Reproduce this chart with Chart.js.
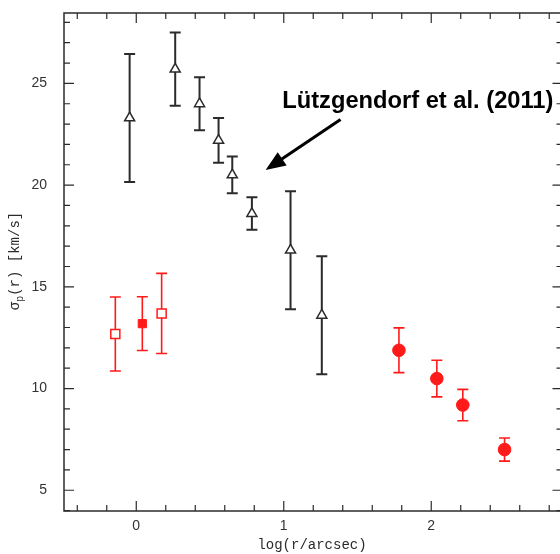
<!DOCTYPE html>
<html>
<head>
<meta charset="utf-8">
<script src="https://cdn.jsdelivr.net/npm/chart.js@4.4.1/dist/chart.umd.min.js"></script>
<style>
  html, body { margin: 0; padding: 0; background: #fff; overflow: hidden; }
  #wrap { width: 560px; height: 554px; overflow: hidden; }
</style>
</head>
<body>
<div id="wrap"><canvas id="sigmaChart" width="580" height="554"></canvas></div>
<script>
/* ---------- data (log r, sigma_p, error) ---------- */
const lutzX = [-0.045, 0.264, 0.429, 0.558, 0.651, 0.784, 1.046, 1.258];
const lutzY = [23.3, 25.7, 24.0, 22.2, 20.5, 18.6, 16.8, 13.6];
const lutzErr = [3.15, 1.8, 1.3, 1.1, 0.9, 0.8, 2.9, 2.9];

const openSqX = [-0.142, 0.172];
const openSqY = [12.68, 13.69];
const openSqErr = [1.82, 1.97];

const fillSqX = [0.041];
const fillSqY = [13.19];
const fillSqErr = [1.32];

const circX = [1.781, 2.038, 2.214, 2.497];
const circY = [11.88, 10.49, 9.19, 7.0];
const circErr = [1.1, 0.9, 0.77, 0.57];

const xTickLabels = [0, 1, 2];
const yTickLabels = [5, 10, 15, 20, 25];

// annotation, in data units
const note = { text: 'Lützgendorf et al. (2011)', x: 0.99, y: 23.77, fromX: 1.385, fromY: 23.23, toX: 0.877, toY: 20.74 };

const INK = '#2b2b2b';
const RED = '#ff1a1a';

const pts = (xs, ys) => xs.map((x, i) => ({ x, y: ys[i] }));

/* ---------- error bars, drawn under the markers ---------- */
const errorBars = {
  id: 'errorBars',
  beforeDatasetsDraw(chart) {
    const { ctx, scales: { x, y } } = chart;
    chart.data.datasets.forEach((ds) => {
      if (!ds.errors) return;
      ctx.save();
      ctx.strokeStyle = ds.errColor;
      ctx.lineWidth = ds.errWidth;
      ds.data.forEach((p, i) => {
        const px = x.getPixelForValue(p.x);
        const top = y.getPixelForValue(p.y + ds.errors[i]);
        const bot = y.getPixelForValue(p.y - ds.errors[i]);
        ctx.beginPath();
        ctx.moveTo(px, top); ctx.lineTo(px, bot);
        ctx.moveTo(px - 5.5, top); ctx.lineTo(px + 5.5, top);
        ctx.moveTo(px - 5.5, bot); ctx.lineTo(px + 5.5, bot);
        ctx.stroke();
      });
      ctx.restore();
    });
  },
};

/* ---------- box frame with inward ticks on all sides ---------- */
const frame = {
  id: 'frame',
  afterDatasetsDraw(chart) {
    const { ctx, chartArea: a, scales: { x, y } } = chart;
    ctx.save();
    ctx.strokeStyle = INK;
    ctx.lineWidth = 1.5;
    ctx.strokeRect(a.left, a.top, a.right - a.left, a.bottom - a.top);
    ctx.lineWidth = 1.2;
    ctx.beginPath();
    for (let v = -0.4; v <= x.max + 1e-6; v += 0.2) {
      const px = x.getPixelForValue(v);
      const len = Math.abs(v - Math.round(v)) < 1e-6 ? 10 : 6;
      ctx.moveTo(px, a.bottom); ctx.lineTo(px, a.bottom - len);
      ctx.moveTo(px, a.top); ctx.lineTo(px, a.top + len);
    }
    for (let v = 4; v <= y.max; v += 1) {
      const py = y.getPixelForValue(v);
      const len = v % 5 === 0 ? 10 : 6;
      ctx.moveTo(a.left, py); ctx.lineTo(a.left + len, py);
      ctx.moveTo(a.right, py); ctx.lineTo(a.right - len, py);
    }
    ctx.stroke();

    // axis titles
    ctx.fillStyle = INK;
    ctx.font = "14px 'Liberation Mono'";
    ctx.textAlign = 'center';
    ctx.textBaseline = 'alphabetic';
    ctx.fillText('log(r/arcsec)', 312, 549);

    ctx.translate(19, 261);
    ctx.rotate(-Math.PI / 2);
    ctx.textAlign = 'left';
    const big = "14px 'Liberation Mono'";
    const small = "10px 'Liberation Mono'";
    ctx.font = big;
    const w1 = ctx.measureText('σ').width;
    const w3 = ctx.measureText('(r) [km/s]').width;
    ctx.font = small;
    const w2 = ctx.measureText('p').width;
    let cx = -(w1 + w2 + w3) / 2;
    ctx.font = big; ctx.fillText('σ', cx, 0); cx += w1;
    ctx.font = small; ctx.fillText('p', cx, 4); cx += w2;
    ctx.font = big; ctx.fillText('(r) [km/s]', cx, 0);
    ctx.restore();
  },
};

/* ---------- annotation text + arrow ---------- */
const arrowNote = {
  id: 'arrowNote',
  afterDraw(chart) {
    const { ctx, scales: { x, y } } = chart;
    const x0 = x.getPixelForValue(note.fromX), y0 = y.getPixelForValue(note.fromY);
    const x1 = x.getPixelForValue(note.toX), y1 = y.getPixelForValue(note.toY);
    const ang = Math.atan2(y1 - y0, x1 - x0);
    const head = 20, half = 8;
    ctx.save();
    ctx.strokeStyle = '#000';
    ctx.fillStyle = '#000';
    ctx.lineWidth = 3;
    ctx.beginPath();
    ctx.moveTo(x0, y0);
    ctx.lineTo(x1 - Math.cos(ang) * head * 0.8, y1 - Math.sin(ang) * head * 0.8);
    ctx.stroke();
    const bx = x1 - Math.cos(ang) * head, by = y1 - Math.sin(ang) * head;
    ctx.beginPath();
    ctx.moveTo(x1, y1);
    ctx.lineTo(bx + Math.sin(ang) * half, by - Math.cos(ang) * half);
    ctx.lineTo(bx - Math.sin(ang) * half, by + Math.cos(ang) * half);
    ctx.closePath();
    ctx.fill();

    ctx.font = "bold 23.7px 'Liberation Sans'";
    ctx.textAlign = 'left';
    ctx.textBaseline = 'alphabetic';
    ctx.fillText(note.text, x.getPixelForValue(note.x), y.getPixelForValue(note.y));
    ctx.restore();
  },
};

new Chart(document.getElementById('sigmaChart').getContext('2d'), {
  type: 'scatter',
  data: {
    datasets: [
      {
        label: 'Lützgendorf et al. (2011)', data: pts(lutzX, lutzY), errors: lutzErr,
        errColor: INK, errWidth: 2,
        pointStyle: 'triangle', pointRadius: 5.8, pointBackgroundColor: '#fff', pointBorderColor: INK, pointBorderWidth: 1.5,
      },
      {
        label: 'open squares', data: pts(openSqX, openSqY), errors: openSqErr,
        errColor: RED, errWidth: 1.6,
        pointStyle: 'rect', pointRadius: 6.4, pointBackgroundColor: '#fff', pointBorderColor: RED, pointBorderWidth: 1.5,
      },
      {
        label: 'filled square', data: pts(fillSqX, fillSqY), errors: fillSqErr,
        errColor: RED, errWidth: 1.6,
        pointStyle: 'rect', pointRadius: 5.8, pointBackgroundColor: RED, pointBorderColor: RED, pointBorderWidth: 1,
      },
      {
        label: 'circles', data: pts(circX, circY), errors: circErr,
        errColor: RED, errWidth: 1.6,
        pointStyle: 'circle', pointRadius: 6.3, pointBackgroundColor: RED, pointBorderColor: RED, pointBorderWidth: 1,
      },
    ],
  },
  options: {
    responsive: false, animation: false, devicePixelRatio: 1,
    layout: { padding: { top: 13, right: 17.5, left: 0, bottom: 0 } },
    plugins: { legend: { display: false }, tooltip: { enabled: false } },
    scales: {
      x: {
        type: 'linear', min: -0.49, max: 2.89,
        grid: { display: false, drawTicks: false }, border: { display: false },
        ticks: { color: '#333', padding: 7, font: { family: "'Liberation Sans'", size: 14 } },
        afterBuildTicks: (s) => { s.ticks = xTickLabels.map((v) => ({ value: v })); },
        afterFit: (s) => { s.height = 43; s.paddingLeft = 0; s.paddingRight = 0; },
      },
      y: {
        type: 'linear', min: 3.98, max: 28.46,
        grid: { display: false, drawTicks: false }, border: { display: false },
        ticks: { color: '#333', padding: 17, font: { family: "'Liberation Sans'", size: 14 } },
        afterBuildTicks: (s) => { s.ticks = yTickLabels.map((v) => ({ value: v })); },
        afterFit: (s) => { s.width = 64; s.paddingTop = 0; s.paddingBottom = 0; },
      },
    },
  },
  plugins: [errorBars, frame, arrowNote],
});
</script>
</body>
</html>
